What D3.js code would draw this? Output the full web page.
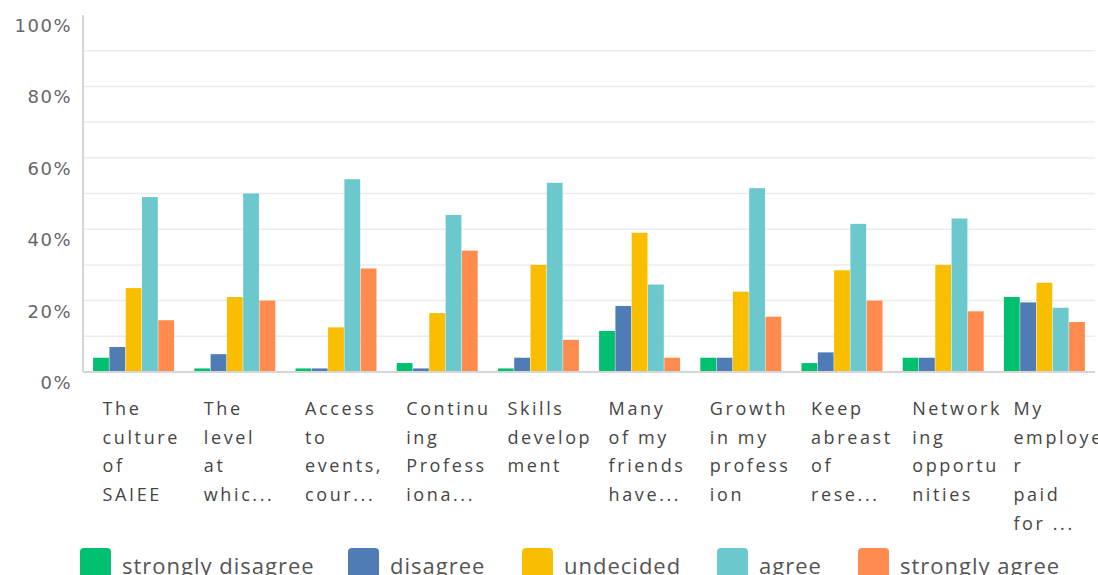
<!DOCTYPE html>
<html>
<head>
<meta charset="utf-8">
<script src="https://cdn.jsdelivr.net/npm/d3@7"></script>
<style>
  html, body { margin: 0; padding: 0; background: #fff; }
  svg { display: block; }
</style>
</head>
<body>
<svg id="chart" width="1098" height="575"></svg>
<script>
// Survey statements (wrapped as shown under each group)
const categoryLines = [
  ["The", "culture", "of", "SAIEE"],
  ["The", "level", "at", "whic..."],
  ["Access", "to", "events,", "cour..."],
  ["Continu", "ing", "Profess", "iona..."],
  ["Skills", "develop", "ment"],
  ["Many", "of my", "friends", "have..."],
  ["Growth", "in my", "profess", "ion"],
  ["Keep", "abreast", "of", "rese..."],
  ["Network", "ing", "opportu", "nities"],
  ["My", "employe", "r", "paid", "for ..."]
];
const categories = categoryLines.map(l => l.join(" "));

const seriesNames = ["strongly disagree", "disagree", "undecided", "agree", "strongly agree"];
const seriesColors = ["#00bf6f", "#507cb6", "#f9be00", "#6bc8cd", "#ff8b4f"];

// Percentage of responses per statement
const stronglyDisagree = [4, 1, 1, 2.5, 1, 11.5, 4, 2.5, 4, 21];
const disagree         = [7, 5, 1, 1, 4, 18.5, 4, 5.5, 4, 19.5];
const undecided        = [23.5, 21, 12.5, 16.5, 30, 39, 22.5, 28.5, 30, 25];
const agree            = [49, 50, 54, 44, 53, 24.5, 51.5, 41.5, 43, 18];
const stronglyAgree    = [14.5, 20, 29, 34, 9, 4, 15.5, 20, 17, 14];

const seriesValues = [stronglyDisagree, disagree, undecided, agree, stronglyAgree];

const yTicks = [0, 20, 40, 60, 80, 100];
const yTickLabels = ["0%", "20%", "40%", "60%", "80%", "100%"];

const svg = d3.select("#chart");
const margin = { left: 83, right: 3, top: 15, bottom: 203 };
const W = 1098, H = 575;
const plotW = W - margin.left - margin.right;
const plotH = H - margin.top - margin.bottom;

const g = svg.append("g").attr("transform", `translate(${margin.left},${margin.top})`);

const x0 = d3.scaleBand().domain(categories).range([0, plotW]).paddingInner(0.19).paddingOuter(0.095);
const x1 = d3.scaleBand().domain(seriesNames).range([0, x0.bandwidth()]).padding(0.03);
const y = d3.scaleLinear().domain([0, 100]).range([plotH, 0]);

// Horizontal grid every 10%
const gridVals = d3.range(10, 100, 10);
g.append("g").selectAll("line").data(gridVals).join("line")
  .attr("x1", 0).attr("x2", plotW)
  .attr("y1", d => y(d)).attr("y2", d => y(d))
  .attr("stroke", "#ececec").attr("stroke-width", 1.5);

// Y axis labels, set just below their gridline
const yAxis = d3.axisLeft(y).tickValues(yTicks)
  .tickFormat((d, i) => yTickLabels[i]).tickSize(0).tickPadding(11);
const ya = g.append("g").call(yAxis);
ya.select(".domain").remove();
ya.selectAll("text")
  .attr("dy", "0.92em")
  .attr("font-family", "'DejaVu Sans', sans-serif")
  .attr("font-size", 18)
  .attr("letter-spacing", 1.5)
  .attr("fill", "#666");

// Bars
const groups = g.append("g").selectAll("g").data(categories).join("g")
  .attr("transform", d => `translate(${x0(d)},0)`);
groups.selectAll("rect")
  .data((d, ci) => seriesNames.map((s, si) => ({ s, v: seriesValues[si][ci], c: seriesColors[si] })))
  .join("rect")
  .attr("x", d => x1(d.s))
  .attr("width", x1.bandwidth())
  .attr("y", d => y(d.v))
  .attr("height", d => y(0) - y(d.v))
  .attr("fill", d => d.c);

// Axis lines
g.append("line").attr("x1", 0).attr("x2", 0).attr("y1", 0).attr("y2", plotH)
  .attr("stroke", "#d6d6d6").attr("stroke-width", 2);
g.append("line").attr("x1", 0).attr("x2", plotW).attr("y1", plotH).attr("y2", plotH)
  .attr("stroke", "#d6d6d6").attr("stroke-width", 2);

// Category labels
const labels = g.append("g").selectAll("text").data(categories).join("text")
  .attr("x", d => x0(d) + 11)
  .attr("y", plotH + 43)
  .attr("font-family", "'Open Sans', sans-serif")
  .attr("font-size", 18)
  .attr("letter-spacing", 2.6)
  .attr("fill", "#454545");
labels.each(function(d, i) {
  const t = d3.select(this);
  categoryLines[i].forEach((line, k) => {
    t.append("tspan").attr("x", x0(d) + 10).attr("dy", k === 0 ? 0 : 28.7).text(line);
  });
});

// Legend
const legendX = [80, 348, 522, 717, 858];
const legend = svg.append("g").selectAll("g").data(seriesNames).join("g")
  .attr("transform", (d, i) => `translate(${legendX[i]},548)`);
legend.append("rect").attr("width", 31).attr("height", 31).attr("rx", 4)
  .attr("fill", (d, i) => seriesColors[i]);
legend.append("text").attr("x", 42).attr("y", 26)
  .attr("font-family", "'Open Sans', sans-serif")
  .attr("font-size", 22).attr("letter-spacing", 1)
  .attr("fill", "#555").text(d => d);
</script>
</body>
</html>
